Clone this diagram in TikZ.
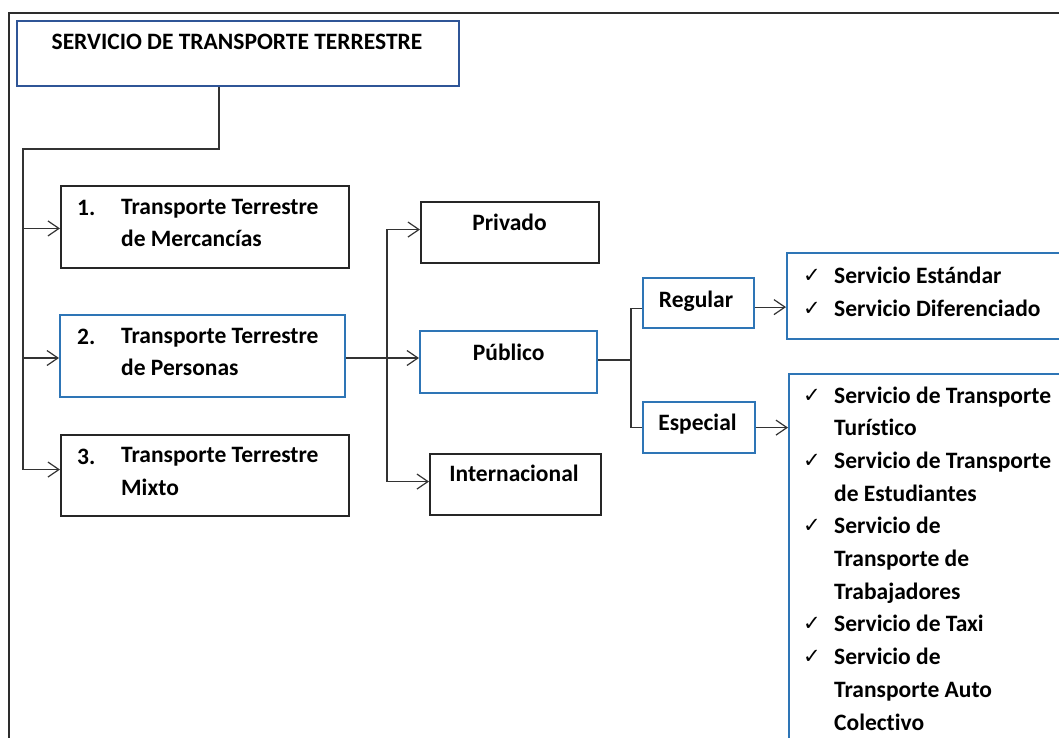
\documentclass[tikz,border=0pt]{standalone}
\usepackage{fontspec}
\setmainfont{Carlito}[Ligatures=NoCommon]
\newfontfamily\chkfont{DejaVu Sans}
\usetikzlibrary{arrows.meta,calc,positioning}
\definecolor{boxB}{RGB}{46,117,182}
\definecolor{titB}{RGB}{47,85,151}
\definecolor{frameG}{RGB}{45,45,45}
\newcommand{\ok}{\makebox[31pt][l]{\raisebox{1pt}{\chkfont\mdseries\fontsize{21}{21}\selectfont ✓}}}
\newcommand{\sk}{\hspace*{31pt}}

\begin{document}
\begin{tikzpicture}[x=1pt,y=-1pt,>={Straight Barb[length=11pt,width=15pt]},
  box/.style={draw=black!85,line width=1.5pt,inner sep=0pt,anchor=north west},
  bbox/.style={box,draw=boxB,line width=2.2pt},
  txt/.style={inner sep=0pt,anchor=base west,align=left,font=\bfseries\fontsize{23.5}{32.7}\selectfont},
  ctxt/.style={txt,anchor=base},
  link/.style={line width=1.2pt,draw=black!80}]
\useasboundingbox (0,0) rectangle (1059,738);
\draw[line width=2pt,frameG] (9.3,745) -- (9.3,13.3) -- (1065,13.3);
% boxes
\node[box,draw=titB,line width=2pt,minimum width=442pt,minimum height=65pt] (title) at (16,20) {};
\node[box,minimum width=288pt,minimum height=82pt] (merc) at (60,185) {};
\node[bbox,minimum width=285pt,minimum height=82pt] (pers) at (59,314) {};
\node[box,minimum width=288pt,minimum height=81pt] (mixto) at (60,434) {};
\node[box,minimum width=178pt,minimum height=61pt] (priv) at (420,201) {};
\node[bbox,minimum width=177pt,minimum height=62pt] (pub) at (419,330) {};
\node[box,minimum width=171pt,minimum height=61pt] (intl) at (429,453) {};
\node[bbox,minimum width=111pt,minimum height=50pt] (reg) at (642,277) {};
\node[bbox,minimum width=112pt,minimum height=51pt] (esp) at (642,401) {};
\node[bbox,minimum width=290pt,minimum height=86pt] (stdlist) at (786,252) {};
\node[bbox,minimum width=290pt,minimum height=380pt] (esplist) at (788,373) {};
% texts (multi-line nodes sit on their last line)
\node[ctxt] (t-title) at (237,50) {SERVICIO DE TRANSPORTE TERRESTRE};
\node[txt] (n-merc) at (77,215) {1.};
\node[txt] (t-merc) at (121,246.7) {Transporte Terrestre\\de Mercancías};
\node[txt] (n-pers) at (77,344.7) {2.};
\node[txt] (t-pers) at (121,375.7) {Transporte Terrestre\\de Personas};
\node[txt] (n-mixto) at (77,464) {3.};
\node[txt] (t-mixto) at (121,495) {Transporte Terrestre\\Mixto};
\node[ctxt] (t-priv) at (509.5,230) {Privado};
\node[ctxt] (t-pub) at (508.7,360) {Público};
\node[ctxt] (t-intl) at (514,481.7) {Internacional};
\node[ctxt] (t-reg) at (696,307.7) {Regular};
\node[ctxt] (t-esp) at (697.5,430.7) {Especial};
\node[txt] (t-stdlist) at (803,316) {\ok Servicio Estándar\\\ok Servicio Diferenciado};
\node[txt] (t-esplist) at (803,730) {\ok Servicio de Transporte\\\sk Turístico\\
  \ok Servicio de Transporte\\\sk de Estudiantes\\\ok Servicio de\\\sk Transporte de\\
  \sk Trabajadores\\\ok Servicio de Taxi\\\ok Servicio de\\\sk Transporte Auto\\\sk Colectivo};
% connectors
\coordinate (trunk) at (219,149);
\coordinate (rail) at (23,149);
\coordinate (fork) at (387,358);
\coordinate (split) at (631,360);
\draw[link] (title.south -| trunk) -- (trunk) -- (rail) -- ([yshift=5.7pt]rail |- mixto.west);
\draw[link,->] ([yshift=-1.7pt]rail |- merc.west) -- ([yshift=-1.7pt]merc.west);
\draw[link,->] (rail |- fork) -- (fork -| pers.west);
\draw[link,->] ([yshift=5.7pt]rail |- mixto.west) -- ([yshift=5.7pt]mixto.west);
\draw[link,->] (pers.east |- fork) -- (fork -| pub.west);
\draw[link,->] (fork) |- ([yshift=2.7pt]priv.west);
\draw[link,->] (fork) |- ([yshift=2.7pt]intl.west);
\draw[link] (pub.east |- split) -- (split);
\draw[link] (split) |- ([yshift=-5.3pt]reg.west);
\draw[link] (split) |- (esp.west);
\draw[link,->] ([yshift=-4pt]reg.east) -- ([yshift=-4pt]reg.east -| stdlist.west);
\draw[link,->] (esp.east) -- (esp.east -| esplist.west);
\end{tikzpicture}
\end{document}
